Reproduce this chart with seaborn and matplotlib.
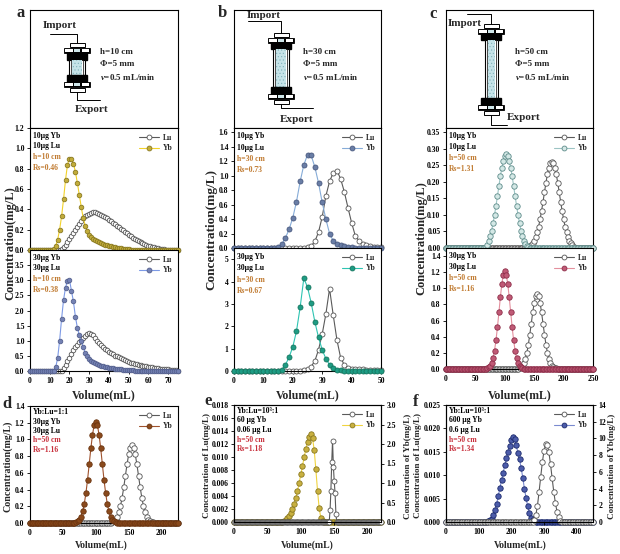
import numpy as np
import pandas as pd
import matplotlib
matplotlib.use('Agg')
import matplotlib.pyplot as plt
import seaborn as sns
from matplotlib.patches import Rectangle
from matplotlib.lines import Line2D
from matplotlib.ticker import FormatStrFormatter

# ---------------- data ----------------
# fraction volumes (mL): a = every 1 mL, b = every 1.25 mL, c/d = every 2.5 mL
vol_a = np.arange(0, 75.01, 1)
vol_b = np.arange(0, 50.01, 1.25)
vol_c = np.arange(0, 250.01, 2.5)
vol_e_yb = np.arange(0, 220.01, 2.5)
vol_e_lu = np.arange(0, 220.01, 1.25)
vol_f = np.arange(0, 450.01, 5)

# a: h=10 cm, 10 ug each  (peak part starts at given volume, zero elsewhere)
a1_yb_start = 12
a1_yb = [0.01, 0.04, 0.10, 0.20, 0.33, 0.50, 0.69, 0.84, 0.90, 0.90, 0.85, 0.77, 0.66,
         0.54, 0.42, 0.31, 0.24, 0.19, 0.15, 0.13, 0.11, 0.095, 0.085, 0.075, 0.065,
         0.058, 0.05, 0.045, 0.04, 0.035, 0.03, 0.026, 0.022, 0.018, 0.015, 0.012,
         0.009, 0.007, 0.005, 0.003, 0.002]
a1_lu_start = 16
a1_lu = [0.01, 0.03, 0.05, 0.08, 0.11, 0.14, 0.17, 0.20, 0.23, 0.26, 0.29, 0.31, 0.33,
         0.345, 0.355, 0.365, 0.37, 0.37, 0.365, 0.355, 0.345, 0.335, 0.325, 0.31, 0.30,
         0.285, 0.27, 0.255, 0.24, 0.225, 0.21, 0.195, 0.18, 0.165, 0.15, 0.135, 0.12,
         0.11, 0.10, 0.09, 0.08, 0.07, 0.06, 0.05, 0.04, 0.035, 0.03, 0.025, 0.02,
         0.015, 0.01, 0.008, 0.005, 0.003]
# a: 30 ug each
a2_yb_start = 13
a2_yb = [0.12, 0.42, 1.0, 1.72, 2.35, 2.76, 2.98, 3.02, 2.65, 2.30, 1.80, 1.43, 1.19,
         1.0, 0.78, 0.60, 0.48, 0.40, 0.34, 0.30, 0.26, 0.23, 0.20, 0.18, 0.16, 0.14,
         0.12, 0.11, 0.10, 0.09, 0.08, 0.07, 0.06, 0.05, 0.045, 0.04, 0.035, 0.03,
         0.025, 0.02, 0.015, 0.01, 0.008, 0.005, 0.003]
a2_lu_start = 17
a2_lu = [0.1, 0.2, 0.32, 0.44, 0.56, 0.68, 0.78, 0.87, 0.95, 1.02, 1.10, 1.17, 1.22,
         1.25, 1.23, 1.18, 1.10, 1.00, 0.92, 0.86, 0.80, 0.74, 0.68, 0.63, 0.59, 0.55,
         0.51, 0.48, 0.45, 0.42, 0.39, 0.36, 0.33, 0.30, 0.28, 0.26, 0.24, 0.22, 0.20,
         0.19, 0.17, 0.16, 0.15, 0.14, 0.13, 0.12, 0.11, 0.10, 0.09, 0.08, 0.075, 0.07,
         0.06, 0.05, 0.045, 0.04, 0.03, 0.02, 0.01]

# b: h=30 cm
b1_yb_start = 15
b1_yb = [0.02, 0.05, 0.14, 0.26, 0.42, 0.64, 0.92, 1.15, 1.29, 1.28, 1.12, 0.90, 0.63,
         0.40, 0.20, 0.10, 0.06, 0.04, 0.03, 0.02, 0.01, 0.005]
b1_lu_start = 25
b1_lu = [0.01, 0.03, 0.09, 0.22, 0.43, 0.72, 0.92, 1.04, 1.07, 0.96, 0.78, 0.56, 0.35,
         0.17, 0.10, 0.06, 0.04, 0.03, 0.02, 0.01, 0.01]
b2_yb_start = 16.25
b2_yb = [0.06, 0.28, 0.62, 1.08, 1.78, 2.85, 4.15, 3.75, 3.05, 2.2, 1.5, 0.95, 0.55,
         0.28, 0.14, 0.06, 0.03, 0.01]
b2_lu_start = 22.5
b2_lu = [0.02, 0.05, 0.09, 0.2, 0.45, 0.95, 1.65, 2.55, 3.68, 2.5, 1.4, 0.6, 0.28, 0.15,
         0.1, 0.08, 0.07, 0.07, 0.06, 0.06, 0.06, 0.06, 0.06]

# c: h=50 cm
c1_yb_start = 67.5
c1_yb = [0.004, 0.01, 0.02, 0.035, 0.052, 0.075, 0.1, 0.128, 0.157, 0.188, 0.217, 0.243,
         0.264, 0.278, 0.283, 0.278, 0.264, 0.243, 0.217, 0.188, 0.157, 0.128, 0.1, 0.075,
         0.052, 0.035, 0.022, 0.012, 0.006, 0.002]
c1_lu_start = 142.5
c1_lu = [0.004, 0.008, 0.014, 0.022, 0.033, 0.047, 0.065, 0.087, 0.112, 0.140, 0.169,
         0.198, 0.223, 0.243, 0.256, 0.260, 0.256, 0.243, 0.223, 0.198, 0.169, 0.140,
         0.112, 0.087, 0.065, 0.047, 0.033, 0.022, 0.014, 0.008, 0.004]
# c bottom and d are the same run (30 ug, 1:1)
c2_yb_start = 70
c2_yb = [0.009, 0.02, 0.041, 0.077, 0.138, 0.229, 0.357, 0.518, 0.703, 0.892, 1.056, 1.17,
         1.21, 1.17, 1.056, 0.892, 0.703, 0.518, 0.357, 0.229, 0.138, 0.077, 0.041, 0.02,
         0.009]
c2_lu_start = 122.5
c2_lu = [0.005, 0.010, 0.021, 0.041, 0.074, 0.126, 0.201, 0.302, 0.426, 0.564, 0.702,
         0.821, 0.901, 0.93, 0.901, 0.821, 0.702, 0.564, 0.426, 0.302, 0.201, 0.126, 0.074,
         0.041, 0.021, 0.012, 0.008, 0.005, 0.003]

# e: Yb:Lu = 10^3:1 (Yb right axis, Lu left axis)
e_yb_start = 75
e_yb = [0.02, 0.05, 0.1, 0.16, 0.24, 0.34, 0.47, 0.62, 0.80, 1.0, 1.22, 1.44, 1.66, 1.87,
        2.05, 2.19, 2.26, 2.15, 1.85, 1.35, 0.8, 0.35, 0.1, 0.02]
e_lu_start = 143.75
e_lu = [0.0018, 0.0048, 0.0092, 0.0125, 0.0085, 0.0063, 0.0044, 0.0013]

# f: Yb:Lu = 10^3:1, 600 ug Yb
f_yb_start = 125
f_yb = [0.02, 0.08, 0.2, 0.4, 0.8, 1.4, 2.2, 3.1, 4.1, 5.0, 5.9, 6.8, 7.6, 8.4, 9.1, 9.8,
        10.2, 9.9, 9.2, 8.3, 7.5, 6.5, 5.3, 4.0, 2.9, 1.9, 1.1, 0.5, 0.2, 0.06, 0.01]
f_lu_start = 270
f_lu = [0.0005, 0.0015, 0.0035, 0.0065, 0.0097, 0.0128, 0.0152, 0.0166, 0.0164, 0.0149,
        0.0123, 0.0093, 0.0064, 0.004, 0.0022, 0.001, 0.0003]


def full(vol, start, peak):
    # zero baseline before and after the eluted peak
    lead = int(np.argmin(np.abs(vol - start)))
    return np.array([0.0] * lead + peak + [0.0] * (len(vol) - lead - len(peak)))


# ---------------- style ----------------
sns.set_theme(style='ticks')
plt.rcParams['font.family'] = ['Liberation Serif', 'DejaVu Serif']
plt.rcParams['font.weight'] = 'bold'
plt.rcParams['axes.labelweight'] = 'bold'
plt.rcParams['mathtext.fontset'] = 'custom'
plt.rcParams['mathtext.it'] = 'Liberation Serif:italic:bold'
plt.rcParams['mathtext.rm'] = 'Liberation Serif:bold'
plt.rcParams['hatch.linewidth'] = 0.4

W, H = 620, 554
fig = plt.figure(figsize=(6.2, 5.54), dpi=100)
fig.patch.set_facecolor('white')

LU_LINE, LU_EDGE = '#5a5a5a', '#555555'
ORANGE = '#c07a30'
RED = '#c8303c'


def add_ax(l, t, r, b):
    return fig.add_axes([l / W, 1 - b / H, (r - l) / W, (b - t) / H])


def ftext(x, y, s, **kw):
    fig.text(x / W, 1 - y / H, s, **kw)


def curve(ax, x, y, line, face, edge, ms=3.3, z=2):
    sns.lineplot(x=x, y=y, ax=ax, color=line, marker='o', markersize=ms,
                 markerfacecolor=face, markeredgecolor=edge, markeredgewidth=0.6,
                 linewidth=0.8, errorbar=None, zorder=z, clip_on=False)


def style(ax, xlim, ylim, yticks, yfmt, xticks=None):
    ax.set_xlim(*xlim)
    ax.set_ylim(*ylim)
    ax.set_yticks(yticks)
    ax.yaxis.set_major_formatter(FormatStrFormatter(yfmt))
    if xticks is None:
        ax.tick_params(axis='x', bottom=False, labelbottom=False)
    else:
        ax.set_xticks(xticks)
    ax.tick_params(direction='out', length=2.5, width=0.6, labelsize=5.5, pad=1.5,
                   colors='black')
    for sp in ax.spines.values():
        sp.set_visible(True)
        sp.set_linewidth(0.8)
        sp.set_color('black')
    ax.set_xlabel('')
    ax.set_ylabel('')


def legend(ax, yb_line, yb_face, yb_edge):
    hs = [Line2D([], [], color=LU_LINE, marker='o', ms=3.5, mfc='white', mec=LU_EDGE,
                 mew=0.6, lw=0.8),
          Line2D([], [], color=yb_line, marker='o', ms=3.5, mfc=yb_face, mec=yb_edge,
                 mew=0.6, lw=0.8)]
    ax.legend(hs, ['Lu', 'Yb'], loc='upper right', frameon=False,
              prop={'size': 5.5, 'weight': 'bold'}, handlelength=2.6,
              labelspacing=0.35, borderaxespad=0.35, handletextpad=0.5)


def notes(ax, lines, colors, dy, top_off):
    for i, (s, c) in enumerate(zip(lines, colors)):
        ax.annotate(s, xy=(0, 1), xycoords='axes fraction', xytext=(3, -top_off - dy * i),
                    textcoords='offset pixels', fontsize=5.5, color=c, va='center',
                    ha='left', fontweight='bold')


def column(ax, cx, ytop, gt, gb, gw=14):
    def cap(y):
        ax.add_patch(Rectangle((cx - 13, y), 26, 5.5, fc='black', ec='black', lw=0.6))
        for x0, fc in [(-12, 'white'), (-3, '#cfe6ea'), (4.5, 'white')]:
            w = 7.5 if fc == 'white' else 6
            ax.add_patch(Rectangle((cx + x0, y + 1), w, 3.5, fc=fc, ec='none'))
    ax.add_patch(Rectangle((cx - 7.5, ytop), 15, 4, fc='white', ec='black', lw=0.7))
    cap(ytop + 4.5)
    ax.add_patch(Rectangle((cx - 10, ytop + 10), 20, gt - ytop - 10, fc='black', ec='black'))
    ax.add_patch(Rectangle((cx - gw / 2, gt), gw, gb - gt, fc='white', ec='black', lw=0.8))
    ax.add_patch(Rectangle((cx - gw / 2 + 2, gt), gw - 4, gb - gt, fc='white', ec='black',
                           lw=0.5))
    ax.add_patch(Rectangle((cx - gw / 2 + 3, gt), gw - 6, gb - gt, fc='#c6e3e8',
                           ec='#7fb2ba', lw=0, hatch='.....'))
    ax.add_patch(Rectangle((cx - 10, gb), 20, 6.5, fc='black', ec='black'))
    cap(gb + 6.5)
    ax.add_patch(Rectangle((cx - 7.5, gb + 12.5), 15, 4, fc='white', ec='black', lw=0.7))


def diagram(l, r, cx, ytop, gt, gb, imp, exp, txt_x, h, gw):
    ax = add_ax(l, 10, r, 128)
    ax.set_xlim(l, r)
    ax.set_ylim(128, 10)
    ax.set_xticks([])
    ax.set_yticks([])
    for sp in ax.spines.values():
        sp.set_linewidth(0.8)
        sp.set_color('black')
    # tubing
    (ix, iy, itx, ity) = imp
    ax.plot([ix, cx, cx], [iy, iy, ytop], color='black', lw=0.7)
    (ey, ex, etx, ety) = exp
    ax.plot([cx, cx, ex], [gb + 16.5, ey, ey], color='black', lw=0.7)
    ax.text(itx, ity, 'Import', fontsize=8, fontweight='bold', va='center', ha='left')
    ax.text(etx, ety, 'Export', fontsize=8, fontweight='bold', va='center', ha='left')
    column(ax, cx, ytop, gt, gb, gw)
    for i, s in enumerate(['h=%d cm' % h, '\u03a6=5 mm', r'$\mathit{v}$=0.5 mL/min']):
        ax.text(txt_x, 52 + 12.5 * i, s, fontsize=6.5, fontweight='bold', va='center',
                ha='left')


# ---------------- diagrams ----------------
diagram(30, 178, 77, 43, 60, 75, (50, 34, 43, 25), (100, 100, 75, 109), 100, 10, 16)
diagram(234, 381, 281, 33, 49, 87, (248, 21, 247, 16), (108, 313, 280, 120), 303, 30, 16)
diagram(446, 593, 491, 24, 40, 98, (467, 14, 448, 23), (125, 507, 507, 117), 515, 50, 13)

# ---------------- a ----------------
ax = add_ax(30, 128, 178, 250)
curve(ax, vol_a, full(vol_a, a1_lu_start, a1_lu), LU_LINE, 'white', LU_EDGE)
curve(ax, vol_a, full(vol_a, a1_yb_start, a1_yb), '#f2d22a', '#c2ac3a', '#8a7a22', z=3)
style(ax, (0, 75), (0, 1.2), np.arange(0, 1.21, 0.2), '%.1f')
legend(ax, '#f2d22a', '#c2ac3a', '#8a7a22')
notes(ax, ['10\u00b5g Yb', '10\u00b5g Lu', 'h=10 cm', 'Rs=0.46'],
      ['black', 'black', ORANGE, ORANGE], 10.5, 8)

ax = add_ax(30, 250, 178, 371)
curve(ax, vol_a, full(vol_a, a2_lu_start, a2_lu), LU_LINE, 'white', LU_EDGE)
curve(ax, vol_a, full(vol_a, a2_yb_start, a2_yb), '#7d9ae6', '#7482b4', '#55608e', z=3)
style(ax, (0, 75), (0, 4.0), np.arange(0, 3.51, 0.5), '%.1f', np.arange(0, 71, 10))
legend(ax, '#7d9ae6', '#7482b4', '#55608e')
notes(ax, ['30\u00b5g Yb', '30\u00b5g Lu', 'h=10 cm', 'Rs=0.38'],
      ['black', 'black', ORANGE, ORANGE], 10.5, 8)

# ---------------- b ----------------
ax = add_ax(234, 128, 381, 248)
curve(ax, vol_b, full(vol_b, b1_lu_start, b1_lu), LU_LINE, 'white', LU_EDGE, ms=3.6)
curve(ax, vol_b, full(vol_b, b1_yb_start, b1_yb), '#86acd8', '#6a7ea6', '#4a5a80',
      ms=3.6, z=3)
style(ax, (0, 50), (0, 1.66), np.arange(0, 1.61, 0.2), '%.1f')
legend(ax, '#86acd8', '#6a7ea6', '#4a5a80')
notes(ax, ['10\u00b5g Yb', '10\u00b5g Lu', 'h=30 cm', 'Rs=0.73'],
      ['black', 'black', ORANGE, ORANGE], 11.5, 8)

ax = add_ax(234, 248, 381, 371)
curve(ax, vol_b, full(vol_b, b2_lu_start, b2_lu), LU_LINE, 'white', LU_EDGE, ms=3.6)
curve(ax, vol_b, full(vol_b, b2_yb_start, b2_yb), '#2ec4b2', '#1e9c84', '#15765f',
      ms=3.6, z=3)
style(ax, (0, 50), (0, 5.5), np.arange(0, 5.1, 1), '%d', np.arange(0, 51, 10))
legend(ax, '#2ec4b2', '#1e9c84', '#15765f')
notes(ax, ['30\u00b5g Yb', '30\u00b5g Lu', 'h=30 cm', 'Rs=0.67'],
      ['black', 'black', ORANGE, ORANGE], 11.5, 9)

# ---------------- c ----------------
ax = add_ax(446, 128, 593, 248)
curve(ax, vol_c, full(vol_c, c1_lu_start, c1_lu), LU_LINE, 'white', LU_EDGE, ms=3.9)
curve(ax, vol_c, full(vol_c, c1_yb_start, c1_yb), '#9cc4c4', '#d4e8e6', '#5e8c8a',
      ms=3.9, z=3)
style(ax, (0, 250), (0, 0.363), np.arange(0, 0.351, 0.05), '%.2f')
legend(ax, '#9cc4c4', '#d4e8e6', '#5e8c8a')
notes(ax, ['10\u00b5g Yb', '10\u00b5g Lu', 'h=50 cm', 'Rs=1.31'],
      ['black', 'black', ORANGE, ORANGE], 11, 8)

ax = add_ax(446, 248, 593, 369)
curve(ax, vol_c, full(vol_c, c2_lu_start, c2_lu), LU_LINE, 'white', LU_EDGE, ms=3.9)
curve(ax, vol_c, full(vol_c, c2_yb_start, c2_yb), '#e4909e', '#c05a76', '#8e2e4a',
      ms=3.9, z=3)
style(ax, (0, 250), (0, 1.5), np.arange(0, 1.41, 0.2), '%.1f', np.arange(0, 251, 50))
legend(ax, '#e4909e', '#c05a76', '#8e2e4a')
notes(ax, ['30\u00b5g Yb', '30\u00b5g Lu', 'h=50 cm', 'Rs=1.16'],
      ['black', 'black', ORANGE, ORANGE], 11, 8)

# ---------------- d ----------------
keep = vol_c <= 225
ax = add_ax(30, 406, 178, 523)
curve(ax, vol_c[keep], full(vol_c, c2_lu_start, c2_lu)[keep], LU_LINE, 'white', LU_EDGE,
      ms=3.9)
curve(ax, vol_c[keep], full(vol_c, c2_yb_start, c2_yb)[keep], '#a0522d', '#8a4a1c',
      '#6a3410', ms=3.9, z=3)
style(ax, (0, 225), (0, 1.4), np.arange(0, 1.41, 0.2), '%.1f', np.arange(0, 201, 50))
legend(ax, '#a0522d', '#8a4a1c', '#6a3410')
notes(ax, ['Yb:Lu=1:1', '30\u00b5g Yb', '30\u00b5g Lu', 'h=50 cm', 'Rs=1.16'],
      ['black', 'black', 'black', RED, RED], 9.5, 6)

# ---------------- e ----------------
ax = add_ax(234, 405, 381, 522)
ax2 = ax.twinx()
curve(ax2, vol_e_yb, full(vol_e_yb, e_yb_start, e_yb), '#f0d440', '#c8b040', '#8a7820',
      ms=3.9)
curve(ax, vol_e_lu, full(vol_e_lu, e_lu_start, e_lu), LU_LINE, 'white', LU_EDGE, ms=3.6)
ax.set_zorder(ax2.get_zorder() + 1)
ax.patch.set_visible(False)
style(ax, (0, 220), (0, 0.018), np.arange(0, 0.0181, 0.002), '%.3f', np.arange(0, 201, 50))
style(ax2, (0, 220), (0, 3.0), np.arange(0, 3.01, 0.5), '%.1f', np.arange(0, 201, 50))
legend(ax, '#f0d440', '#c8b040', '#8a7820')
notes(ax, ['Yb:Lu=10\u00b3:1', '60 \u00b5g Yb', '0.06 \u00b5g Lu', 'h=50 cm', 'Rs=1.18'],
      ['black', 'black', 'black', RED, RED], 9.5, 6)

# ---------------- f ----------------
ax = add_ax(446, 405, 593, 522)
ax2 = ax.twinx()
curve(ax2, vol_f, full(vol_f, f_yb_start, f_yb), '#7a8ad0', '#4c5caa', '#1c2a6c', ms=3.9)
curve(ax, vol_f, full(vol_f, f_lu_start, f_lu), LU_LINE, 'white', LU_EDGE, ms=3.9)
ax.set_zorder(ax2.get_zorder() + 1)
ax.patch.set_visible(False)
style(ax, (0, 450), (0, 0.025), np.arange(0, 0.0251, 0.005), '%.3f', np.arange(0, 401, 100))
style(ax2, (0, 450), (0, 14), np.arange(0, 14.1, 2), '%d', np.arange(0, 401, 100))
legend(ax, '#7a8ad0', '#4c5caa', '#1c2a6c')
notes(ax, ['Yb:Lu=10\u00b3:1', '600 \u00b5g Yb', '0.6 \u00b5g Lu', 'h=50 cm', 'Rs=1.34'],
      ['black', 'black', 'black', RED, RED], 9.5, 6)

# ---------------- labels ----------------
kw = dict(fontweight='bold', ha='center', va='center')
for x, y, s in [(21, 13, 'a'), (222, 13, 'b'), (433, 14, 'c'),
                (7, 404, 'd'), (208, 401, 'e'), (416, 402, 'f')]:
    ftext(x, y, s, fontsize=12, **kw)

ftext(10, 243, 'Concentration(mg/L)', fontsize=9, rotation=90, **kw)
ftext(211, 230, 'Concentration(mg/L)', fontsize=9.5, rotation=90, **kw)
ftext(421, 238, 'Concentration(mg/L)', fontsize=9, rotation=90, **kw)
ftext(8, 466, 'Concentration(mg/L)', fontsize=7.2, rotation=90, **kw)
ftext(207, 466, 'Concentration of Lu(mg/L)', fontsize=6.5, rotation=90, **kw)
ftext(408, 466, 'Concentration of Yb(mg/L)', fontsize=6.5, rotation=90, **kw)
ftext(418, 466, 'Concentration of Lu(mg/L)', fontsize=6.5, rotation=90, **kw)
ftext(612, 466, 'Concentration of Yb(mg/L)', fontsize=6.5, rotation=90, **kw)

for x in [104, 308, 520]:
    ftext(x, 395, 'Volume(mL)', fontsize=8.5, **kw)
for x in [101, 307, 520]:
    ftext(x, 545, 'Volume(mL)', fontsize=7, **kw)

fig.savefig('out.png', dpi=100, facecolor='white')
